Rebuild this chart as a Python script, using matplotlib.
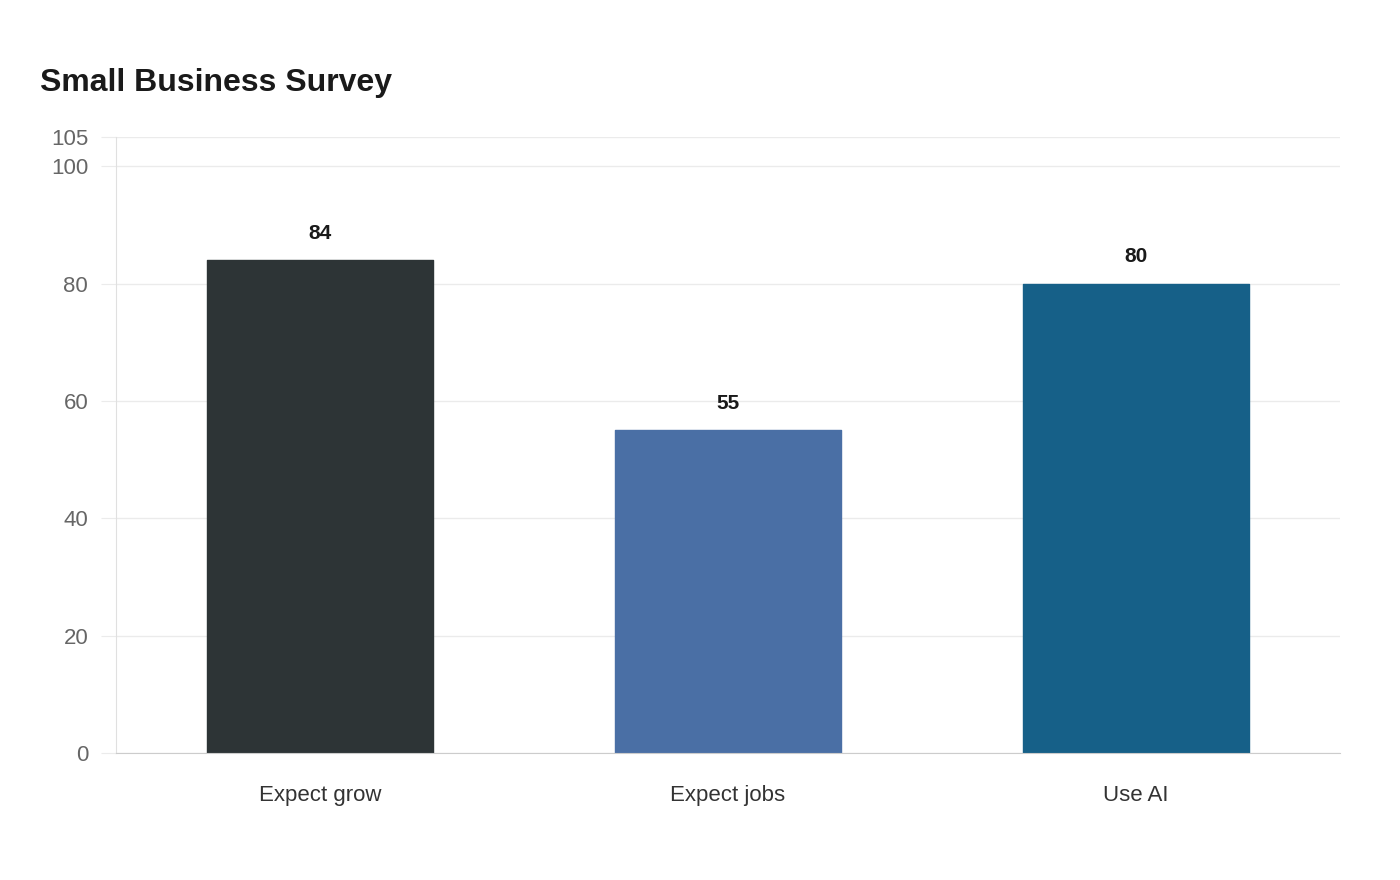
import matplotlib
matplotlib.use("Agg")
import matplotlib.pyplot as plt

categories = ["Expect grow", "Expect jobs", "Use AI"]
values = [84, 55, 80]
colors = ["#2d3436", "#4a6fa5", "#166088"]
yticks = [0, 20, 40, 60, 80, 100, 105]

plt.rcParams['font.family'] = ['Liberation Sans', 'DejaVu Sans']

fig = plt.figure(figsize=(14, 8.8), dpi=100)
ax = fig.add_axes([116 / 1400, 127 / 880, 1224 / 1400, 616 / 880])

x = range(len(categories))
ax.bar(x, values, width=0.556, color=colors, edgecolor=colors,
       linewidth=1, joinstyle='round', zorder=3)

for i, v in enumerate(values):
    ax.text(i, v + 3.0, str(v), ha='center', va='bottom',
            fontsize=15, fontweight='bold', color='#1a1a1a')

ax.set_xlim(-0.5, len(categories) - 0.5)
ax.set_ylim(0, 105)
ax.set_yticks(yticks)
ax.set_xticks(list(x))
ax.set_xticklabels(categories)

ax.grid(axis='y', color='#ebebeb', linewidth=1, zorder=0)
ax.tick_params(axis='y', length=11, color='#ebebeb', labelsize=16,
               labelcolor='#666666', pad=9)
ax.tick_params(axis='x', length=0, labelsize=16, labelcolor='#333333', pad=23)

for s in ['top', 'right']:
    ax.spines[s].set_visible(False)
ax.spines['left'].set_color('#e0e0e0')
ax.spines['bottom'].set_color('#cccccc')
ax.spines['bottom'].set_zorder(4)

fig.text(40 / 1400, 1 - 83 / 880, "Small Business Survey", fontsize=23,
         fontweight='bold', color='#1a1a1a', va='center', ha='left')

fig.savefig("out.png", dpi=100, facecolor='white')
